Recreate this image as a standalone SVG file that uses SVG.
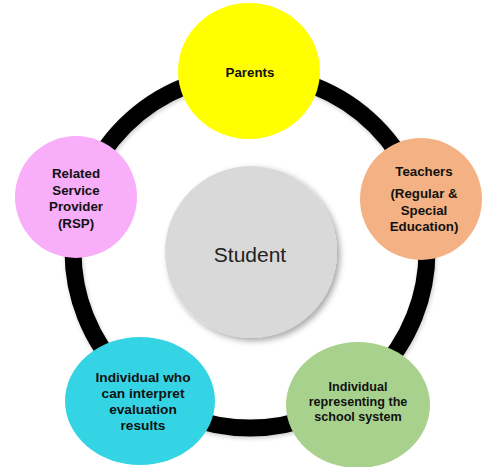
<svg xmlns="http://www.w3.org/2000/svg" width="484" height="467" viewBox="0 0 484 467">
<defs>
<filter id="sh" x="-20%" y="-20%" width="150%" height="150%">
<feGaussianBlur in="SourceAlpha" stdDeviation="3"/>
<feOffset dx="3" dy="3" result="b"/>
<feComponentTransfer><feFuncA type="linear" slope="0.35"/></feComponentTransfer>
<feMerge><feMergeNode/><feMergeNode in="SourceGraphic"/></feMerge>
</filter>
<filter id="sh2" x="-10%" y="-10%" width="130%" height="130%">
<feGaussianBlur in="SourceAlpha" stdDeviation="2"/>
<feOffset dx="1" dy="2" result="b"/>
<feComponentTransfer><feFuncA type="linear" slope="0.2"/></feComponentTransfer>
<feMerge><feMergeNode/><feMergeNode in="SourceGraphic"/></feMerge>
</filter>
</defs>
<style>
.lbl{font-family:"Liberation Sans",Arial,sans-serif;font-weight:bold;font-size:13.3px;fill:#111;text-anchor:middle}
.ring{fill:none;stroke:#000;stroke-width:17}
</style>
<rect width="484" height="467" fill="#fff"/>
<g id="connectors">
<circle class="ring" cx="250" cy="251" r="177" filter="url(#sh2)"/>
</g>
<g id="student">
<circle cx="251" cy="252" r="86" fill="#D9D9D9" filter="url(#sh)"/>
<text x="250" y="262" style="font-family:'Liberation Sans',Arial,sans-serif;font-size:21px;fill:#222;text-anchor:middle">Student</text>
</g>
<g id="parents">
<ellipse cx="249" cy="71" rx="71" ry="68" fill="#FFFF00"/>
<text class="lbl" x="250" y="77">Parents</text>
</g>
<g id="teachers">
<circle cx="421" cy="199" r="61" fill="#F4B183"/>
<text class="lbl" x="424" y="176">Teachers</text>
<text class="lbl" x="424" y="198">(Regular &amp;</text>
<text class="lbl" x="424" y="215">Special</text>
<text class="lbl" x="424" y="231">Education)</text>
</g>
<g id="rsp">
<circle cx="76" cy="197" r="61" fill="#F8AEF8"/>
<text class="lbl" x="76" y="178">Related</text>
<text class="lbl" x="76" y="195">Service</text>
<text class="lbl" x="76" y="211">Provider</text>
<text class="lbl" x="76" y="228">(RSP)</text>
</g>
<g id="evaluator">
<ellipse cx="140" cy="401" rx="75" ry="64" fill="#35D4E4"/>
<text class="lbl" x="143" y="382" style="font-size:13.7px">Individual who</text>
<text class="lbl" x="143" y="398" style="font-size:13.7px">can interpret</text>
<text class="lbl" x="143" y="414" style="font-size:13.7px">evaluation</text>
<text class="lbl" x="143" y="430" style="font-size:13.7px">results</text>
</g>
<g id="school">
<ellipse cx="358" cy="405" rx="72" ry="63" fill="#A9D18E"/>
<text class="lbl" x="358" y="391" style="font-size:12.6px">Individual</text>
<text class="lbl" x="358" y="406" style="font-size:12.6px">representing the</text>
<text class="lbl" x="358" y="421" style="font-size:12.6px">school system</text>
</g>
</svg>
